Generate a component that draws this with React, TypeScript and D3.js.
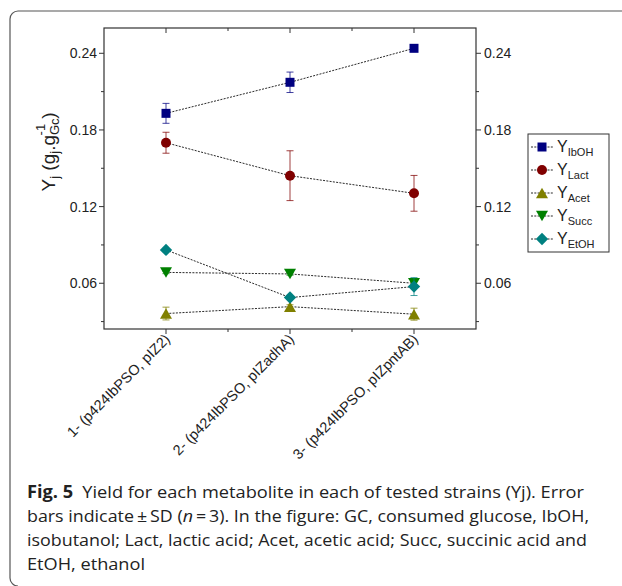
import React from "react";
import * as d3 from "d3";

const categories = ["1- (p424IbPSO, pIZ2)", "2- (p424IbPSO, pIZadhA)", "3- (p424IbPSO, pIZpntAB)"];
const seriesNames = ["IbOH", "Lact", "Acet", "Succ", "EtOH"];
const seriesColors = ["#000080", "#800000", "#808000", "#008000", "#008080"];
const seriesSymbols = ["square", "circle", "triangleUp", "triangleDown", "diamond"];
const valuesIbOH = [0.193, 0.2173, 0.2439];
const sdIbOH = [0.0078, 0.008, 0.0015];
const valuesLact = [0.170, 0.1442, 0.1304];
const sdLact = [0.0082, 0.0195, 0.014];
const valuesAcet = [0.0363, 0.0417, 0.0358];
const sdAcet = [0.005, 0.0015, 0.0047];
const valuesSucc = [0.0685, 0.0673, 0.0600];
const sdSucc = [0.001, 0.001, 0.0015];
const valuesEtOH = [0.0861, 0.0488, 0.0574];
const sdEtOH = [0.0005, 0.001, 0.007];
const yTicks = [0.06, 0.12, 0.18, 0.24];
const yMinorTicks = [0.03, 0.09, 0.15, 0.21];
const captionLines = [
  "Yield for each metabolite in each of tested strains (Yj). Error",
  "bars indicate\u2009\u00b1\u2009SD (",
  "isobutanol; Lact, lactic acid; Acet, acetic acid; Succ, succinic acid and",
  "EtOH, ethanol",
];

const allValues = [valuesIbOH, valuesLact, valuesAcet, valuesSucc, valuesEtOH];
const allSd = [sdIbOH, sdLact, sdAcet, sdSucc, sdEtOH];

const W = 622, H = 586;
const L = 104, R = 476, T = 28, B = 329;
const x = d3.scaleLinear().domain([0.5, 3.5]).range([L, R]);
const y = d3.scaleLinear().domain([0.0242, 0.2598]).range([B, T]);

function symbolPath(kind: string, s: number) {
  if (kind === "square") return `M${-s / 2},${-s / 2}h${s}v${s}h${-s}Z`;
  if (kind === "circle") return d3.symbol(d3.symbolCircle, Math.PI * (s / 2) ** 2)()!;
  if (kind === "triangleUp") { const w = s * 1.2, h = s * 1.05; return `M0,${-h / 2}L${w / 2},${h / 2}L${-w / 2},${h / 2}Z`; }
  if (kind === "triangleDown") { const w = s * 1.2, h = s * 1.05; return `M0,${h / 2}L${w / 2},${-h / 2}L${-w / 2},${-h / 2}Z`; }
  const d = s * 0.62;
  return `M0,${-d}L${d},0L0,${d}L${-d},0Z`;
}
const symSize = [9, 10, 10, 10, 10];

export default function App() {
  const line = d3.line<number>().x((_, i) => x(i + 1)).y((v) => y(v));
  const font = "Arial, 'Liberation Sans', Helvetica, sans-serif";
  const capFont = "'Open Sans', sans-serif";
  const axisColor = "#333";
  const legendX = 528, legendY = 134, legendW = 81, legendH = 118;
  return (
    <svg width={W} height={H} style={{ position: "absolute", left: 0, top: 0, background: "#fff" }}>
      <rect width={W} height={H} fill="#fff" />
      {/* frame */}
      <path d={`M${W + 2},11 H18 A8,8 0 0 0 10,19 V578 A8,8 0 0 0 18,586`} fill="none" stroke="#555" strokeWidth={1.2} />
      {/* plot box */}
      <rect x={L} y={T} width={R - L} height={B - T} fill="none" stroke={axisColor} strokeWidth={1.2} />
      {/* y ticks left & right */}
      {yTicks.map((t) => (
        <g key={"y" + t}>
          <line x1={L - 5} x2={L} y1={y(t)} y2={y(t)} stroke={axisColor} />
          <line x1={R} x2={R + 5} y1={y(t)} y2={y(t)} stroke={axisColor} />
          <text x={L - 7} y={y(t)} dy="0.35em" textAnchor="end" fontFamily={font} fontSize={14} fill="#222">{t.toFixed(2)}</text>
          <text x={R + 8} y={y(t)} dy="0.35em" textAnchor="start" fontFamily={font} fontSize={14} fill="#222">{t.toFixed(2)}</text>
        </g>
      ))}
      {yMinorTicks.map((t) => (
        <g key={"ym" + t}>
          <line x1={L - 3} x2={L} y1={y(t)} y2={y(t)} stroke={axisColor} />
          <line x1={R} x2={R + 3} y1={y(t)} y2={y(t)} stroke={axisColor} />
        </g>
      ))}
      {/* x ticks bottom & top */}
      {categories.map((c, i) => (
        <g key={"x" + i}>
          <line x1={x(i + 1)} x2={x(i + 1)} y1={B} y2={B + 5} stroke={axisColor} />
          <line x1={x(i + 1)} x2={x(i + 1)} y1={T} y2={T + 5} stroke={axisColor} />
          <text transform={`translate(${x(i + 1) + 5},${B + 11}) rotate(-45)`} textAnchor="end" fontFamily={font} fontSize={14.5} fill="#222">{c}</text>
        </g>
      ))}
      {[1.5, 2.5].map((t) => (
        <g key={"xm" + t}>
          <line x1={x(t)} x2={x(t)} y1={B} y2={B + 3} stroke={axisColor} />
          <line x1={x(t)} x2={x(t)} y1={T} y2={T + 3} stroke={axisColor} />
        </g>
      ))}
      {/* y axis title */}
      <text transform={`translate(55,152) rotate(-90)`} textAnchor="middle" fontFamily={font} fontSize={19} fill="#222">
        <tspan>Y</tspan>
        <tspan fontSize={13} dy={4}>j</tspan>
        <tspan dy={-4}> (g</tspan>
        <tspan fontSize={13} dy={4}>j</tspan>
        <tspan dy={-4}>.g</tspan>
        <tspan fontSize={13} dy={4}>Gc</tspan>
        <tspan fontSize={13} dx={-17} dy={-14}>-1</tspan>
        <tspan dx={5} dy={10}>)</tspan>
      </text>
      {/* connecting lines */}
      {allValues.map((vals, si) => (
        <path key={"l" + si} d={line(vals)!} fill="none" stroke="#111" strokeWidth={0.9} strokeDasharray="2 1.3" />
      ))}
      {/* error bars and markers */}
      {allValues.map((vals, si) => (
        <g key={"s" + si}>
          {vals.map((v, i) => {
            const cx = x(i + 1), sd = allSd[si][i];
            return (
              <g key={i} stroke={seriesColors[si]} strokeOpacity={0.75} strokeWidth={1}>
                <line x1={cx} x2={cx} y1={y(v - sd)} y2={y(v + sd)} />
                <line x1={cx - 3.5} x2={cx + 3.5} y1={y(v - sd)} y2={y(v - sd)} />
                <line x1={cx - 3.5} x2={cx + 3.5} y1={y(v + sd)} y2={y(v + sd)} />
              </g>
            );
          })}
          {vals.map((v, i) => (
            <path key={"m" + i} d={symbolPath(seriesSymbols[si], symSize[si])} transform={`translate(${x(i + 1)},${y(v)})`} fill={seriesColors[si]} />
          ))}
        </g>
      ))}
      {/* legend */}
      <rect x={legendX} y={legendY} width={legendW} height={legendH} fill="#fff" stroke={axisColor} strokeWidth={1} />
      {seriesNames.map((n, i) => {
        const ly = legendY + 13 + i * 23;
        return (
          <g key={"lg" + i}>
            <line x1={legendX + 3} x2={legendX + 26} y1={ly} y2={ly} stroke="#111" strokeWidth={0.9} strokeDasharray="2 1.3" />
            <path d={symbolPath(seriesSymbols[i], symSize[i])} transform={`translate(${legendX + 14},${ly})`} fill={seriesColors[i]} />
            <text x={legendX + 29} y={ly + 5} fontFamily={font} fontSize={16} fill="#222">
              <tspan>Y</tspan>
              <tspan fontSize={11} dy={4}>{n}</tspan>
            </text>
          </g>
        );
      })}
      {/* caption */}
      <text x={27} y={498} fontFamily={capFont} fontSize={17} fill="#222" textLength={557} lengthAdjust="spacingAndGlyphs">
        <tspan fontWeight="bold">Fig. 5</tspan>
        <tspan>{"\u2002" + captionLines[0]}</tspan>
      </text>
      <text x={27} y={522} fontFamily={capFont} fontSize={17} fill="#222" textLength={562} lengthAdjust="spacingAndGlyphs">
        <tspan>{captionLines[1]}</tspan>
        <tspan fontStyle="italic">n</tspan>
        <tspan>{"\u2009=\u20093). In the figure: GC, consumed glucose, IbOH,"}</tspan>
      </text>
      <text x={27} y={546} fontFamily={capFont} fontSize={17} fill="#222" textLength={560} lengthAdjust="spacingAndGlyphs">
        {captionLines[2]}
      </text>
      <text x={27} y={570} fontFamily={capFont} fontSize={17} fill="#222" textLength={118} lengthAdjust="spacingAndGlyphs">
        {captionLines[3]}
      </text>
    </svg>
  );
}
